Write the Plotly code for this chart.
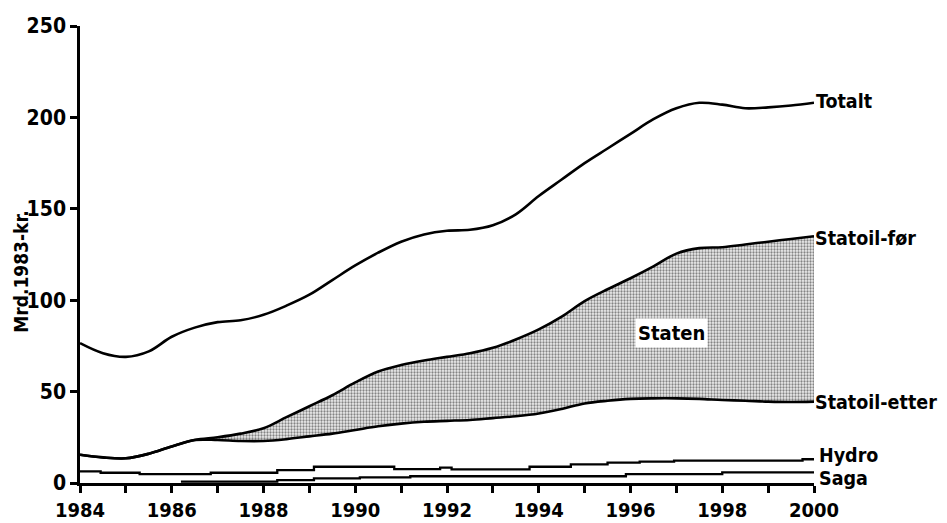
import plotly.graph_objects as go

# ---- data ----
years = [1984, 1984.5, 1985, 1985.5, 1986, 1986.5, 1987, 1987.5, 1988, 1988.5,
         1989, 1989.5, 1990, 1990.5, 1991, 1991.5, 1992, 1992.5, 1993, 1993.5,
         1994, 1994.5, 1995, 1995.5, 1996, 1996.5, 1997, 1997.5, 1998, 1998.5,
         1999, 1999.5, 2000]
totalt = [76.5, 71, 69, 72, 80, 85, 88, 89, 92, 97,
          103, 111, 119, 126, 132, 136, 138, 138.5, 141, 147,
          157, 166, 175, 183, 191, 199, 205, 208, 207, 205,
          205.5, 206.5, 208]
statoil_for = [15.5, 14, 13.5, 16, 20, 23.5, 25, 27, 30, 36,
               42, 48, 55, 61, 64.5, 67, 69, 71, 74, 78.5,
               84, 91, 99.5, 106, 112, 118.5, 125.5, 128.5, 129, 130.5,
               132, 133.5, 135]
statoil_etter = [15.5, 14, 13.5, 16, 20, 23.5, 23.5, 23, 23, 24,
                 25.5, 27, 29, 31, 32.5, 33.5, 34, 34.5, 35.5, 36.5,
                 38, 40.5, 43.5, 45, 46, 46.3, 46.3, 46, 45.4, 45,
                 44.5, 44.3, 44.5]

hydro_years = [1984, 1984.45, 1985.3, 1986.85, 1988.3, 1989.1, 1990.85, 1991.85,
               1992.1, 1993.8, 1994.7, 1995.5, 1996.2, 1996.95, 1999.75, 2000]
hydro = [6.4, 5.6, 4.9, 5.6, 7.0, 8.9, 7.6, 8.4,
         7.5, 8.9, 10.2, 11.1, 11.7, 12.2, 13.0, 13.0]

saga_years = [1986.2, 1988.3, 1989.1, 1990.1, 1991.2, 1995.9, 1998, 2000]
saga = [0.7, 1.6, 2.5, 3.1, 3.7, 4.9, 5.8, 5.8]

x_tickvals = list(range(1984, 2001))
x_ticktext = [str(y) if y % 2 == 0 else "" for y in x_tickvals]
y_tickvals = [0, 50, 100, 150, 200, 250]

FONT = "DejaVu Sans Condensed"

fig = go.Figure()

fig.add_trace(go.Scatter(
    x=years, y=statoil_etter, mode="lines", line=dict(color="black", width=2.6, shape="spline"),
    showlegend=False, hoverinfo="skip"))
fig.add_trace(go.Scatter(
    x=years, y=statoil_for, mode="lines", line=dict(color="black", width=2.6, shape="spline"),
    fill="tonexty", fillcolor="rgba(0,0,0,0)",
    fillpattern=dict(shape=".", size=3, solidity=0.45, fgcolor="#1a1a1a", bgcolor="#eeeeee"),
    showlegend=False, hoverinfo="skip"))
fig.add_trace(go.Scatter(
    x=years, y=totalt, mode="lines", line=dict(color="black", width=2.6, shape="spline"),
    showlegend=False, hoverinfo="skip"))
fig.add_trace(go.Scatter(
    x=hydro_years, y=hydro, mode="lines", line=dict(color="black", width=2.3, shape="hv"),
    showlegend=False, hoverinfo="skip"))
fig.add_trace(go.Scatter(
    x=saga_years, y=saga, mode="lines", line=dict(color="black", width=2.3, shape="hv"),
    showlegend=False, hoverinfo="skip"))

labels = [("Totalt", 208.5, 0), ("Statoil-før", 133.5, -1),
          ("Statoil-etter", 43.8, -1), ("Hydro", 15.3, 3),
          ("Saga", 2.7, 3)]
for txt, yv, xs in labels:
    fig.add_annotation(x=2000, y=yv, text=txt, showarrow=False, xanchor="left",
                       yanchor="middle", xshift=xs,
                       font=dict(family=FONT, size=19.5, color="black", weight="bold"))

fig.add_annotation(x=1996.9, y=82, text="Staten", showarrow=False,
                   bgcolor="white", borderpad=2,
                   font=dict(family=FONT, size=20, color="black", weight="bold"))

fig.add_annotation(xref="paper", yref="paper", x=-0.0805, y=0.462, text="Mrd.1983-kr.",
                   textangle=-90, showarrow=False, xanchor="center", yanchor="middle",
                   font=dict(family=FONT, size=19, color="black", weight="bold"))

# page body has an 8px margin, so the figure is shifted by 8px; compensate
fig.update_layout(
    width=939, height=515,
    margin=dict(l=72, r=133, t=18, b=40, autoexpand=False),
    paper_bgcolor="white", plot_bgcolor="white",
    font=dict(family=FONT, size=17, color="black", weight="bold"),
    xaxis=dict(range=[1984, 2000], tickvals=x_tickvals, ticktext=x_ticktext,
               automargin=False,
               showgrid=False, zeroline=False, showline=True, linecolor="black",
               linewidth=2.5, ticks="outside", ticklen=7, tickwidth=2.5,
               tickcolor="black", tickfont=dict(family=FONT, size=20, weight="bold")),
    yaxis=dict(range=[0, 250], tickvals=y_tickvals, showgrid=False, zeroline=False,
               automargin=False,
               showline=True, linecolor="black", linewidth=2.5, ticks="outside",
               ticklen=7, tickwidth=2.5, tickcolor="black",
               tickfont=dict(family=FONT, size=21, weight="bold")),
)

fig.write_html("out.html")
